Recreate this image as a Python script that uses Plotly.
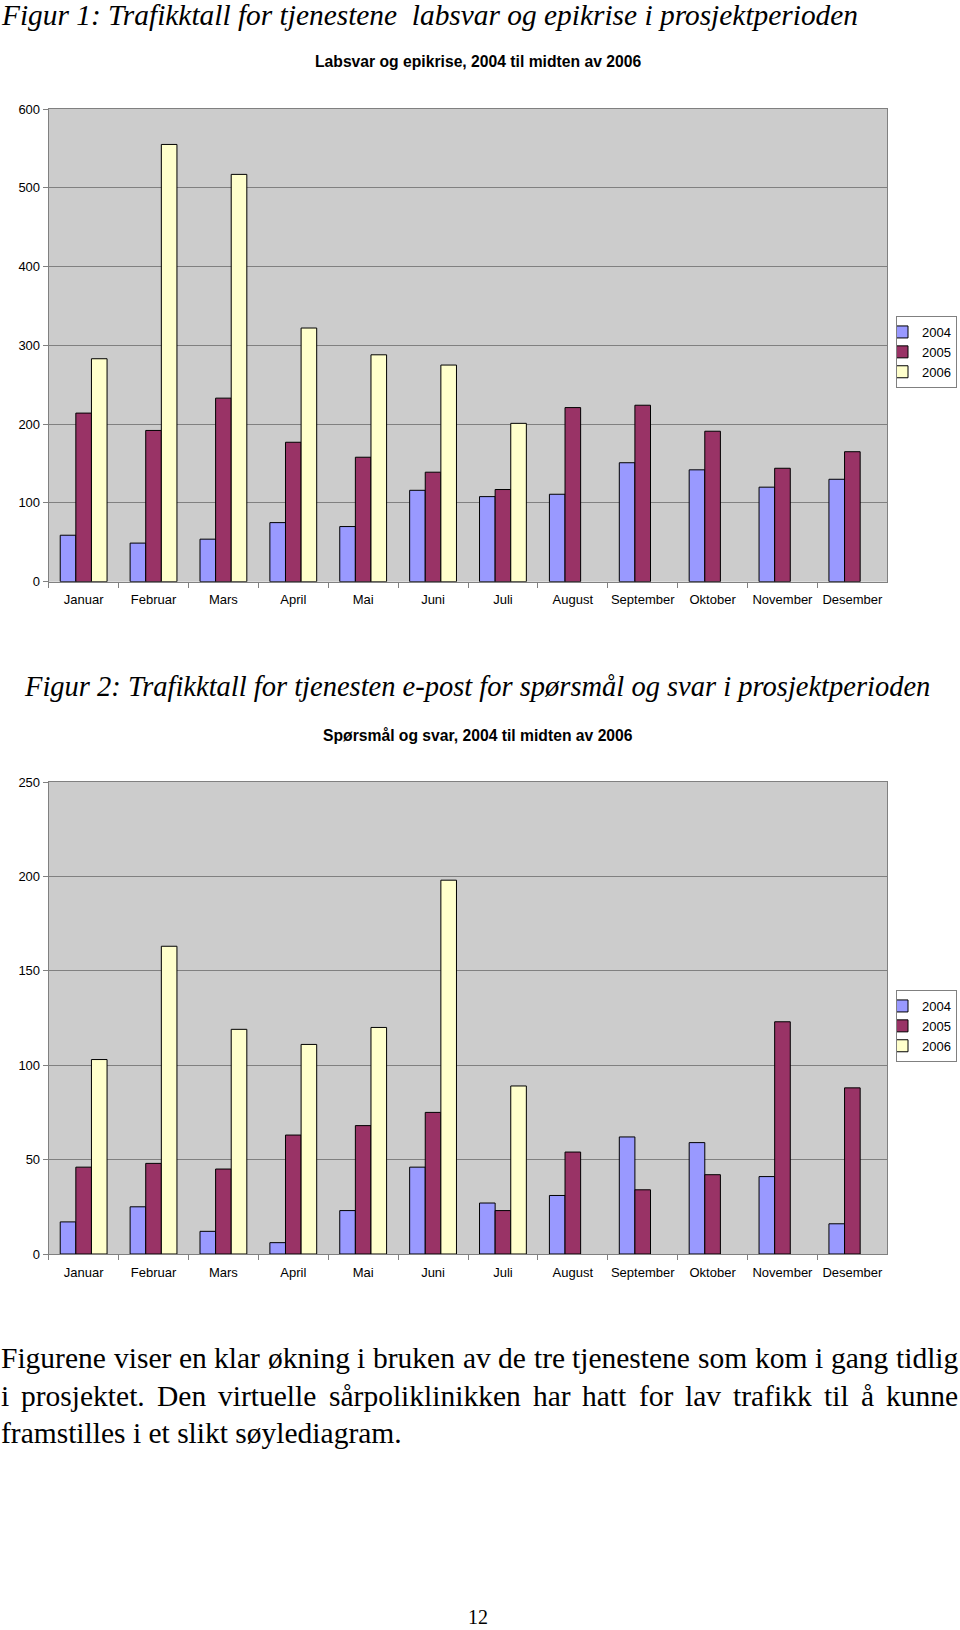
import plotly.graph_objects as go

# ---------------- data ----------------
months = ["Januar", "Februar", "Mars", "April", "Mai", "Juni", "Juli",
          "August", "September", "Oktober", "November", "Desember"]
years = ["2004", "2005", "2006"]

lab_2004 = [59, 49, 54, 75, 70, 116, 108, 111, 151, 142, 120, 130]
lab_2005 = [214, 192, 233, 177, 158, 139, 117, 221, 224, 191, 144, 165]
lab_2006 = [283, 555, 517, 322, 288, 275, 201, None, None, None, None, None]

sos_2004 = [17, 25, 12, 6, 23, 46, 27, 31, 62, 59, 41, 16]
sos_2005 = [46, 48, 45, 63, 68, 75, 23, 54, 34, 42, 123, 88]
sos_2006 = [103, 163, 119, 111, 120, 198, 89, None, None, None, None, None]

lab_ticks = [0, 100, 200, 300, 400, 500, 600]
sos_ticks = [0, 50, 100, 150, 200, 250]

colors = ["#9999FF", "#993366", "#FFFFCC"]

heading1 = "Figur 1: Trafikktall for tjenestene\u00a0 labsvar og epikrise i prosjektperioden"
heading2 = "Figur 2: Trafikktall for tjenesten e-post for spørsmål og svar i prosjektperioden"
title1 = "Labsvar og epikrise, 2004 til midten av 2006"
title2 = "Spørsmål og svar, 2004 til midten av 2006"
para_lines = [
    "Figurene viser en klar økning i bruken av de tre tjenestene som kom i gang tidlig",
    "i prosjektet. Den virtuelle sårpoliklinikken har hatt for lav trafikk til å kunne",
    "framstilles i et slikt søylediagram.",
]
page_no = "12"

# ---------------- geometry helpers ----------------
W, H = 960, 1630
def px(x):
    return x / W
def py(y):
    return 1 - y / H

X0, X1 = 48.7, 887.3
P1_TOP, P1_BOT = 109, 581.7
P2_TOP, P2_BOT = 782, 1254

SANS = "Liberation Sans"
SERIF = "Liberation Serif"

fig = go.Figure()

for i, (yr, vals) in enumerate(zip(years, [lab_2004, lab_2005, lab_2006])):
    fig.add_trace(go.Bar(
        x=months, y=vals, name=yr, xaxis="x", yaxis="y", legend="legend",
        marker=dict(color=colors[i], line=dict(color="black", width=1)),
    ))
for i, (yr, vals) in enumerate(zip(years, [sos_2004, sos_2005, sos_2006])):
    fig.add_trace(go.Bar(
        x=months, y=vals, name=yr, xaxis="x2", yaxis="y2", legend="legend2",
        marker=dict(color=colors[i], line=dict(color="black", width=1)),
    ))

axis_common = dict(showline=True, linecolor="#808080", linewidth=1, mirror=True,
                   ticks="outside", ticklen=5, tickcolor="#808080",
                   tickfont=dict(family=SANS, size=13, color="black"))

legend_common = dict(xanchor="left", yanchor="top",
                     bordercolor="#808080", borderwidth=1, bgcolor="white",
                     font=dict(family=SANS, size=13, color="black"),
                     indentation=-15, tracegroupgap=0)

fig.update_layout(
    width=W, height=H,
    margin=dict(l=0, r=0, t=0, b=0, autoexpand=False),
    paper_bgcolor="white", plot_bgcolor="#CCCCCC",
    barmode="group", bargap=0.33, bargroupgap=0,
    xaxis=dict(domain=[px(X0), px(X1)], anchor="y", type="category",
               tickson="boundaries", tickangle=0, ticklabelstandoff=6,
               showgrid=False, **axis_common),
    yaxis=dict(domain=[py(P1_BOT), py(P1_TOP)], anchor="x", range=[0, 600],
               tickvals=lab_ticks, showgrid=True, gridcolor="#808080", gridwidth=1,
               zeroline=False, **axis_common),
    xaxis2=dict(domain=[px(X0), px(X1)], anchor="y2", type="category",
                tickson="boundaries", tickangle=0, ticklabelstandoff=6,
                showgrid=False, **axis_common),
    yaxis2=dict(domain=[py(P2_BOT), py(P2_TOP)], anchor="x2", range=[0, 250],
                tickvals=sos_ticks, showgrid=True, gridcolor="#808080", gridwidth=1,
                zeroline=False, **axis_common),
    legend=dict(x=px(896), y=py(316), **legend_common),
    legend2=dict(x=px(896), y=py(990), **legend_common),
)

ann = []
def add_text(text, x, y, size, family, xanchor="center", color="black"):
    ann.append(dict(text=text, x=px(x), y=py(y), xref="paper", yref="paper",
                    xanchor=xanchor, yanchor="middle", showarrow=False,
                    font=dict(family=family, size=size, color=color)))

add_text("<i>" + heading1 + "</i>", -1, 15, 29.4, SERIF, xanchor="left")
add_text("<b>" + title1 + "</b>", 478, 61, 15.7, SANS)
add_text("<i>" + heading2 + "</i>", 22, 686, 28.5, SERIF, xanchor="left")
add_text("<b>" + title2 + "</b>", 478, 735, 15.7, SANS)

# justified paragraph (Times Roman advance widths, 1/1000 em)
TR = {' ': 250, 'a': 444, 'b': 500, 'c': 444, 'd': 500, 'e': 444, 'f': 333, 'g': 500,
      'h': 500, 'i': 278, 'j': 278, 'k': 500, 'l': 278, 'm': 778, 'n': 500, 'o': 500,
      'p': 500, 'r': 333, 's': 389, 't': 278, 'u': 500, 'v': 500, 'y': 500, 'å': 444,
      'ø': 500, '.': 250, 'D': 722, 'F': 556}
PSIZE = 29.5
line_y = [1358, 1396, 1433]
for li, line in enumerate(para_lines):
    if li < 2:
        words = line.split(" ")
        widths = [sum(TR.get(c, 500) for c in w) * PSIZE / 1000 for w in words]
        gap = (957 - sum(widths)) / (len(words) - 1)
        x = -1
        for w, wd in zip(words, widths):
            add_text(w, x, line_y[li], PSIZE, SERIF, xanchor="left")
            x += wd + gap
    else:
        add_text(line, -1, line_y[li], PSIZE, SERIF, xanchor="left")

add_text(page_no, 478, 1617, 20, SERIF)

fig.update_layout(annotations=ann)
fig.write_html("out.html", config={"displayModeBar": False},
               post_script="document.body.style.margin='0';document.body.style.overflow='hidden';")
